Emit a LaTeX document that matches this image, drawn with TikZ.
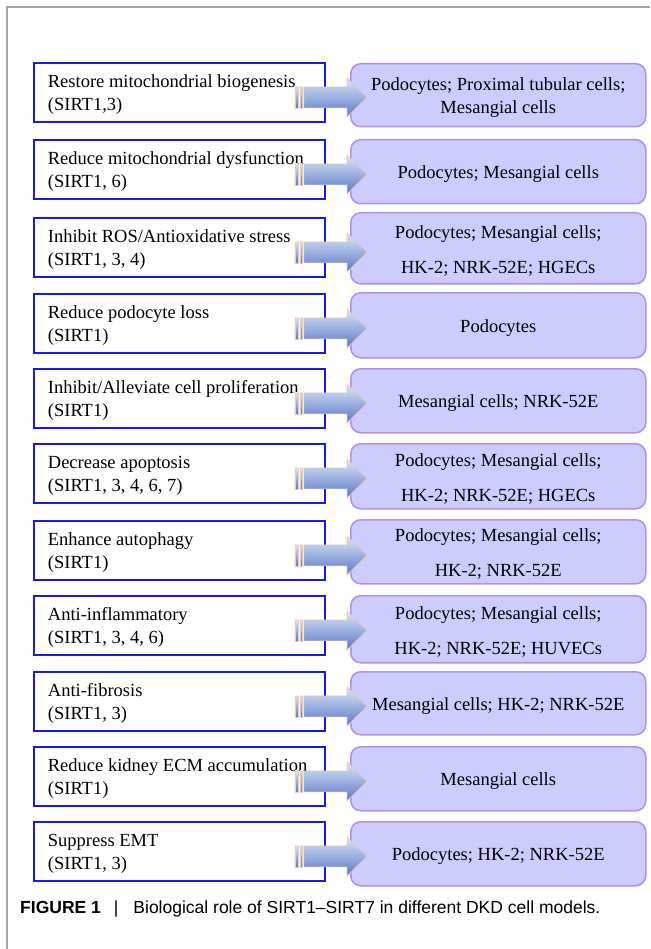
\documentclass[tikz,border=0pt]{standalone}
\usepackage{fontspec}
\setmainfont{Liberation Serif}
\newfontfamily\capfont{Liberation Sans}
\usepackage{tikz}
\usetikzlibrary{calc,shapes.geometric,arrows}
\definecolor{lblue}{RGB}{25,25,225}
\definecolor{rfill}{RGB}{204,204,255}
\definecolor{rline}{RGB}{185,140,235}
\definecolor{atop}{RGB}{220,229,247}
\definecolor{abot}{RGB}{88,122,200}
\definecolor{aline}{RGB}{240,202,172}
\definecolor{fgray}{RGB}{165,165,165}
\tikzstyle{arw} = [top color=atop,bottom color=abot,draw=aline,line width=0.6pt]
% striped block arrow from a left box to its right box
\newcommand{\sirtarrow}[2]{%
\coordinate(#1s)at($(#1.east)+(0,5)$);
\coordinate(#1t)at(#2.west |- #1s);
\shadedraw[arw]($(#1s)+(-22,-10.5)$)--($(#1t)+(-3,-10.5)$)--($(#1t)+(-3,-19.5)$)--($(#1t)+(17,0)$)--($(#1t)+(-3,19.5)$)--($(#1t)+(-3,10.5)$)--($(#1s)+(-22,10.5)$)--cycle;
\shadedraw[arw]($(#1s)+(-31,-10.5)$)rectangle($(#1s)+(-28,10.5)$);
\shadedraw[arw]($(#1s)+(-26,-10.5)$)rectangle($(#1s)+(-23.5,10.5)$);
}
\begin{document}
\begin{tikzpicture}[x=1pt,y=-1pt]

\tikzstyle{lb} = [rectangle,anchor=north west,draw=lblue,line width=1.8pt,fill=white,minimum width=291pt,minimum height=59pt,text width=263pt,inner xsep=14pt,align=left,font=\fontsize{18.5}{23}\selectfont,execute at begin node={\spaceskip=0pt\xspaceskip=0pt\rule{0pt}{18pt}}]
\tikzstyle{rb} = [rectangle,anchor=north west,rounded corners=10pt,draw=rline,line width=1.5pt,fill=rfill,minimum width=295pt,text width=285pt,inner xsep=5pt,align=flush center,font=\fontsize{18.5}{23}\selectfont,execute at begin node={\spaceskip=0pt\xspaceskip=0pt\rule{0pt}{18pt}}]

\useasboundingbox(0,0)rectangle(650,949);
\draw[fgray,line width=1.5pt](650,7)--(7,7)--(7,949);

\node[lb](L1)at(33,62){Restore mitochondrial biogenesis\\(SIRT1,3)};
\node[lb](L2)at(33,139){Reduce mitochondrial dysfunction\\(SIRT1, 6)};
\node[lb](L3)at(33,217){Inhibit ROS/Antioxidative stress\\(SIRT1, 3, 4)};
\node[lb](L4)at(33,293){Reduce podocyte loss\\(SIRT1)};
\node[lb](L5)at(33,368){Inhibit/Alleviate cell proliferation\\(SIRT1)};
\node[lb](L6)at(33,443){Decrease apoptosis\\(SIRT1, 3, 4, 6, 7)};
\node[lb](L7)at(33,520){Enhance autophagy\\(SIRT1)};
\node[lb](L8)at(33,595){Anti-inflammatory\\(SIRT1, 3, 4, 6)};
\node[lb](L9)at(33,671){Anti-fibrosis\\(SIRT1, 3)};
\node[lb](L10)at(33,746){Reduce kidney ECM accumulation\\(SIRT1)};
\node[lb](L11)at(33,821){Suppress EMT\\(SIRT1, 3)};

\node[rb,minimum height=63pt](R1)at(350,63){Podocytes; Proximal tubular cells;\\Mesangial cells};
\node[rb,minimum height=64pt](R2)at(350,139){Podocytes; Mesangial cells};
\node[rb,minimum height=71pt](R3)at(350,212){Podocytes; Mesangial cells;\\[12pt]HK-2; NRK-52E; HGECs};
\node[rb,minimum height=65pt](R4)at(350,292){Podocytes};
\node[rb,minimum height=64pt](R5)at(350,368){Mesangial cells; NRK-52E};
\node[rb,minimum height=65pt](R6)at(350,443){Podocytes; Mesangial cells;\\[12pt]HK-2; NRK-52E; HGECs};
\node[rb,minimum height=64pt](R7)at(350,519){Podocytes; Mesangial cells;\\[12pt]HK-2; NRK-52E};
\node[rb,minimum height=67pt](R8)at(350,595){Podocytes; Mesangial cells;\\[12pt]HK-2; NRK-52E; HUVECs};
\node[rb,minimum height=63pt](R9)at(350,671){Mesangial cells; HK-2; NRK-52E};
\node[rb,minimum height=64pt](R10)at(350,746){Mesangial cells};
\node[rb,minimum height=64pt](R11)at(350,821){Podocytes; HK-2; NRK-52E};

\sirtarrow{L1}{R1}
\sirtarrow{L2}{R2}
\sirtarrow{L3}{R3}
\sirtarrow{L4}{R4}
\sirtarrow{L5}{R5}
\sirtarrow{L6}{R6}
\sirtarrow{L7}{R7}
\sirtarrow{L8}{R8}
\sirtarrow{L9}{R9}
\sirtarrow{L10}{R10}
\sirtarrow{L11}{R11}

\node[anchor=base west,inner sep=0pt](cap)at(20,913){\capfont\fontsize{17.5}{20}\selectfont\textbf{FIGURE 1}\hspace{13pt}|\hspace{15pt}Biological role of SIRT1–SIRT7 in different DKD cell models.};

\end{tikzpicture}
\end{document}
